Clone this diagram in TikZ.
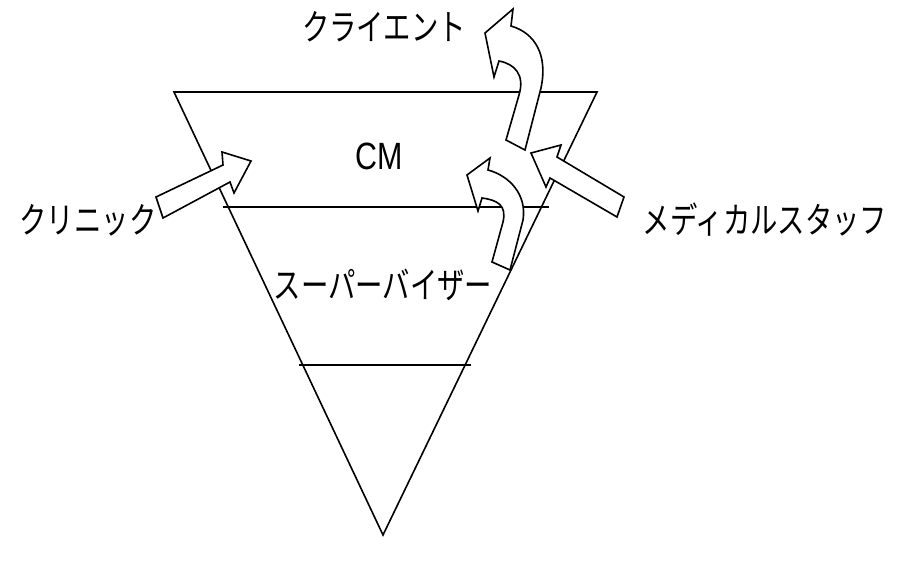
\documentclass[tikz,border=0pt]{standalone}
\usepackage{fontspec}
\newfontfamily\jp[FakeStretch=0.76]{Noto Sans CJK JP}
\newfontfamily\lat[FakeStretch=0.8]{Liberation Sans}
\begin{document}
\begin{tikzpicture}[x=1pt,y=-1pt,
  ln/.style={line width=1.6pt, line join=miter},
  blk/.style={line width=1.6pt, fill=white, line join=miter},
  lbl/.style={inner sep=0pt, font=\jp\fontsize{36}{36}\selectfont}]
\useasboundingbox (0,0) rectangle (910,567);
% triangle
\coordinate (TL) at (174,92);
\coordinate (TR) at (597,92);
\coordinate (AP) at (383,535);
\draw[ln] (TL) -- (TR) -- (AP) -- cycle;
\coordinate (L1a) at (223,207);
\coordinate (L1b) at (549,207);
\coordinate (L2a) at (299,365);
\coordinate (L2b) at (471,365);
\draw[ln] (L1a) -- (L1b);
\draw[ln] (L2a) -- (L2b);
% labels
\node[inner sep=0pt, font=\lat\fontsize{38}{38}\selectfont] (cm) at (379,156) {CM};
\node[lbl] (sv) at (383,285) {スーパーバイザー};
\node[lbl] (cl) at (88,220) {クリニック};
\node[lbl] (ms) at (765,220) {メディカルスタッフ};
\node[lbl] (ct) at (384,27) {クライエント};
% straight block arrow from clinic
\draw[blk] (156,197) -- (223,165) -- (222,152) -- (251,161) -- (234,193) -- (230,182) -- (163,218) -- cycle;
% straight block arrow from medical staff
\draw[blk] (624,197) -- (557,157) -- (561,145) -- (531,153) -- (546,187) -- (550,178) -- (617,217) -- cycle;
% upper curved arrow (to client)
\draw[blk] (506,140) -- (519,95) .. controls (525,75) and (515,64) .. (499,61)
  -- (494,77) -- (485,33) -- (513,9) -- (511,26)
  .. controls (535,33) and (548,55) .. (541,88) -- (525,150) -- cycle;
% lower curved arrow
\draw[blk] (492,262) -- (503,222) .. controls (507,205) and (497,200) .. (482,198)
  -- (478,211) -- (467,175) -- (490,158) -- (488,170)
  .. controls (510,176) and (527,195) .. (523,220) -- (510,270) -- cycle;
\end{tikzpicture}
\end{document}
